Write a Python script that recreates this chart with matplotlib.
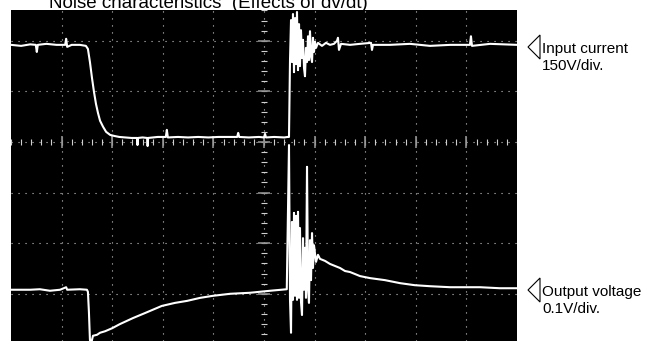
#Noise characteristics: scope capture of input current and output voltage under a fast dv/dt step
import matplotlib.pyplot as plt
from matplotlib.patches import Polygon
from numpy import arange, array

# screen units: 1 = one division, x from -5 to 5, y = 0 on the centre graticule line
t_in = [-5.00, -4.80, -4.62, -4.51, -4.49, -4.47, -4.30, -4.10, -3.93, -3.91, -3.89,
        -3.80, -3.64, -3.52, -3.48, -3.44, -3.40, -3.36, -3.32, -3.28, -3.24, -3.18,
        -3.12, -3.04, -2.96, -2.86, -2.74, -2.62, -2.51, -2.50, -2.49, -2.40, -2.31,
        -2.30, -2.29, -2.10, -1.94, -1.92, -1.90, -1.70, -1.50, -1.30, -1.10, -0.90,
        -0.70, -0.53, -0.51, -0.49, -0.30, -0.10, 0.00, 0.02, 0.04, 0.20, 0.40, 0.47,
        0.494, 0.514, 0.534, 0.553, 0.573, 0.593, 0.613, 0.632, 0.652, 0.672, 0.692,
        0.711, 0.731, 0.751, 0.771, 0.791, 0.810, 0.830, 0.850, 0.870, 0.889, 0.909,
        0.929, 0.949, 0.968, 0.988, 1.008, 1.028, 1.067, 1.146, 1.225, 1.304, 1.383,
        1.443, 1.462, 1.482, 1.522, 1.700, 1.897, 2.115, 2.134, 2.154, 2.49, 2.885,
        3.28, 3.68, 4.07, 4.09, 4.11, 4.47, 5.00]
v_in = [1.92, 1.90, 1.93, 1.92, 1.78, 1.92, 1.94, 1.92, 1.92, 2.04, 1.88,
        1.92, 1.92, 1.90, 1.84, 1.58, 1.27, 0.99, 0.75, 0.57, 0.42, 0.30,
        0.20, 0.14, 0.12, 0.10, 0.09, 0.08, 0.08, -0.06, 0.08, 0.09, 0.08,
        -0.08, 0.08, 0.10, 0.10, 0.24, 0.09, 0.10, 0.09, 0.10, 0.09, 0.10,
        0.10, 0.10, 0.18, 0.10, 0.09, 0.10, 0.09, 0.16, 0.09, 0.10, 0.09, 0.10,
        0.10, 1.62, 2.41, 1.58, 2.53, 1.38, 2.45, 1.54, 2.57, 1.42, 2.33,
        1.50, 2.21, 1.66, 2.02, 1.46, 1.30, 1.86, 1.58, 2.09, 1.62, 2.19,
        1.70, 1.58, 2.06, 1.78, 1.98, 1.86, 1.96, 1.90, 1.96, 1.92, 1.94,
        2.00, 2.06, 1.82, 1.94, 1.92, 1.94, 1.96, 1.82, 1.92, 1.92, 1.94,
        1.90, 1.92, 1.92, 2.09, 1.90, 1.94, 1.92]

t_out = [-5.00, -4.62, -4.43, -4.23, -4.03, -3.91, -3.89, -3.64, -3.50, -3.48, -3.46,
         -3.44, -3.42, -3.38, -3.30, -3.24, -3.14, -3.00, -2.85, -2.59, -2.35, -2.02,
         -1.76, -1.52, -1.26, -1.01, -0.67, -0.28, 0.12, 0.45,
         0.494, 0.514, 0.534, 0.553, 0.573, 0.593, 0.613, 0.632, 0.652, 0.672, 0.692,
         0.711, 0.731, 0.751, 0.771, 0.791, 0.810, 0.830, 0.850, 0.870, 0.889, 0.909,
         0.929, 0.949, 0.968, 0.988, 1.028, 1.067, 1.107, 1.206, 1.304, 1.403, 1.502,
         1.601, 1.700, 1.80, 1.897, 2.095, 2.39, 2.69, 2.98, 3.28, 3.68, 4.27, 4.66, 5.00]
v_out = [-2.92, -2.92, -2.91, -2.94, -2.92, -2.87, -2.92, -2.91, -2.92, -2.96, -3.36,
         -3.91, -4.00, -3.83, -3.81, -3.77, -3.74, -3.68, -3.60, -3.48, -3.38, -3.24,
         -3.18, -3.14, -3.08, -3.04, -3.00, -2.98, -2.94, -2.91,
         -0.06, -3.12, -3.77, -1.58, -3.12, -1.40, -3.04, -1.46, -3.12, -1.38, -3.08,
         -1.70, -3.16, -3.42, -1.90, -2.92, -2.09, -3.08, -0.49, -2.89, -3.18, -1.94,
         -2.73, -1.80, -2.49, -2.04, -2.37, -2.23, -2.31, -2.35, -2.41, -2.45, -2.49,
         -2.55, -2.57, -2.61, -2.65, -2.69, -2.73, -2.79, -2.83, -2.85, -2.87, -2.87, -2.89, -2.89]

labels = [("Input current", "150V/div."), ("Output voltage", "0.1V/div.")]

W, H = 661, 341
fig = plt.figure(figsize=(W/100, H/100), dpi=100)
plt.rcParams['font.family'] = ['Liberation Sans', 'DejaVu Sans']

ax = fig.add_axes([11/W, 0, 506/W, 331/H])
ax.set_facecolor('black')
ax.set_xlim(-5, 5)
ax.set_ylim(-3.933, 2.609)
ax.set_xticks([]); ax.set_yticks([])
for s in ax.spines.values():
    s.set_visible(False)

# dotted graticule
dots = dict(color='#c8c8c8', lw=0.8, linestyle=(0, (1, 5.3)), zorder=1)
for x in arange(-4, 5):
    ax.axvline(x, **dots)
for y in arange(-3, 3):
    ax.axhline(y, **dots)

# tick marks along the centre lines
minor = arange(-5, 5.01, 0.2)
ax.vlines(minor, -0.05, 0.05, color='#d0d0d0', lw=0.8, zorder=1)
ax.hlines(arange(-4, 3, 0.2), -0.06, 0.06, color='#d0d0d0', lw=0.8, zorder=1)
ax.vlines(arange(-4, 5), -0.12, 0.12, color='#909090', lw=1.2, zorder=1)
ax.hlines(arange(-3, 3), -0.12, 0.12, color='#909090', lw=1.2, zorder=1)

ax.plot(t_in, v_in, color='white', lw=1.5, zorder=3)
ax.plot(t_out, v_out, color='white', lw=1.5, zorder=3)

fig.text(208/W, 1 - 8/H, "Noise characteristics  (Effects of dv/dt)", ha='center',
         va='baseline', fontsize=13.5, zorder=-1)

# channel markers on the right
for (name, scale), tip in zip(labels, [47, 290]):
    tri = Polygon([[528/W, 1 - tip/H], [540/W, 1 - (tip - 12)/H], [540/W, 1 - (tip + 12)/H]],
                  closed=True, fill=False, edgecolor='black', lw=0.8,
                  transform=fig.transFigure)
    fig.patches.append(tri)
    fig.text(542/W, 1 - (tip + 6)/H, name, ha='left', va='baseline', fontsize=11)
    fig.text(542/W, 1 - (tip + 23)/H, scale, ha='left', va='baseline', fontsize=11)

plt.savefig("out.png", dpi=100)
